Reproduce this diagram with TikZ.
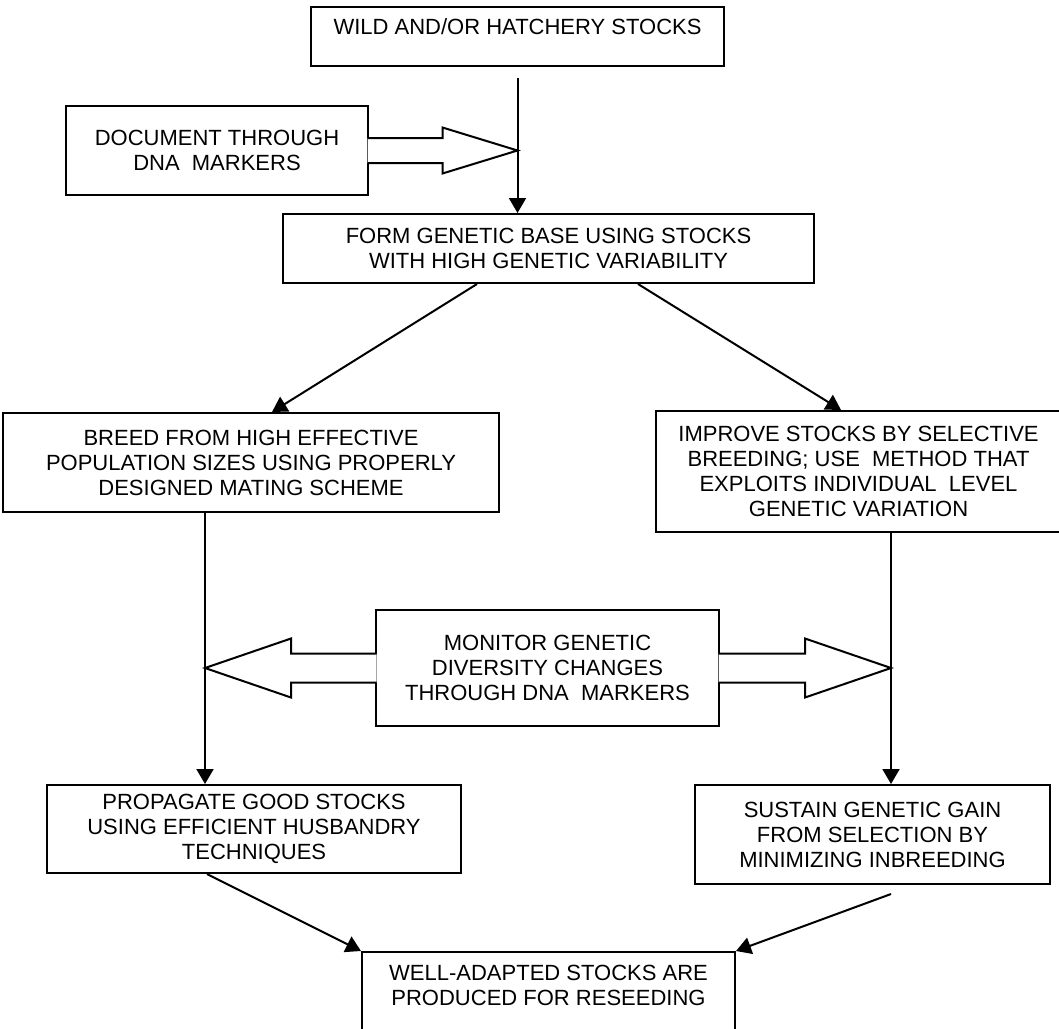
\documentclass[tikz,border=0pt]{standalone}
\usepackage{fontspec}
\setmainfont{Liberation Sans}
\usetikzlibrary{arrows.meta}

\begin{document}
\begin{tikzpicture}[x=1pt, y=1pt,
        box/.style={draw, line width=2pt, align=center, inner sep=0pt,
            font=\fontsize{22}{25}\selectfont},
        arr/.style={line width=2pt, -{Triangle[length=15pt,width=17pt]}},
        fat/.style={line width=2pt, fill=white, line join=miter}]
    \clip (0,0) rectangle (1059,-1028);
    \coordinate (lx) at (205,0);
    \coordinate (rx) at (891,0);
    \node[box, minimum width=413pt, minimum height=59pt] (wild) at (517.5,-36.5)
        {WILD AND/OR HATCHERY STOCKS\\[-6pt] \mbox{}};
    \node[box, minimum width=302pt, minimum height=89pt] (doc) at (217,-150.5)
        {DOCUMENT THROUGH\\DNA~ MARKERS};
    \node[box, minimum width=531pt, minimum height=69pt] (form) at (548.5,-248.5)
        {FORM GENETIC BASE USING STOCKS\\WITH HIGH GENETIC VARIABILITY};
    \node[box, minimum width=496pt, minimum height=99pt] (breed) at (251,-462.5)
        {BREED FROM HIGH EFFECTIVE\\POPULATION SIZES USING PROPERLY\\DESIGNED MATING SCHEME};
    \node[box, minimum width=405pt, minimum height=121pt] (improve) at (858.5,-471.5)
        {IMPROVE STOCKS BY SELECTIVE\\BREEDING; USE~ METHOD THAT\\EXPLOITS INDIVIDUAL~ LEVEL\\GENETIC VARIATION};
    \node[box, minimum width=343pt, minimum height=116pt] (monitor) at (547.5,-668)
        {MONITOR GENETIC\\DIVERSITY CHANGES\\THROUGH DNA~ MARKERS};
    \node[box, minimum width=414pt, minimum height=88pt] (propagate) at (254,-829)
        {PROPAGATE GOOD STOCKS\\USING EFFICIENT HUSBANDRY\\TECHNIQUES};
    \node[box, minimum width=355pt, minimum height=99pt] (sustain) at (872.5,-834.5)
        {SUSTAIN GENETIC GAIN\\FROM SELECTION BY\\MINIMIZING INBREEDING};
    \node[box, minimum width=373pt, minimum height=117pt, anchor=north] (well) at (548.5,-951)
        {WELL-ADAPTED STOCKS ARE\\PRODUCED FOR RESEEDING\\ \mbox{}\\ \mbox{}};

    \coordinate (docTip) at (wild.south |- doc.east);
    \coordinate (lTip) at (lx |- monitor.west);
    \coordinate (rTip) at (rx |- monitor.east);
    \draw[fat] ([xshift=-1.5pt,yshift=12.5pt]doc.east) -- ([xshift=-75pt,yshift=12.5pt]docTip)
        -- ++(0,10.5) -- (docTip) -- ++(-75,-23) -- ++(0,10.5)
        -- ([xshift=-1.5pt,yshift=-12.5pt]doc.east);
    \draw[fat] ([xshift=1.5pt,yshift=14.5pt]monitor.west) -- ([xshift=86pt,yshift=14.5pt]lTip)
        -- ++(0,15) -- (lTip) -- ++(86,-29.5) -- ++(0,15)
        -- ([xshift=1.5pt,yshift=-14.5pt]monitor.west);
    \draw[fat] ([xshift=-1.5pt,yshift=14.5pt]monitor.east) -- ([xshift=-86pt,yshift=14.5pt]rTip)
        -- ++(0,15) -- (rTip) -- ++(-86,-29.5) -- ++(0,15)
        -- ([xshift=-1.5pt,yshift=-14.5pt]monitor.east);

    \draw[arr] ([yshift=-11pt]wild.south) -- (form.north -| wild.south);
    \draw[arr] ([xshift=195pt]form.south west) -- ([xshift=21pt]breed.north);
    \draw[arr] ([xshift=-177pt]form.south east) -- ([xshift=186pt]improve.north west);
    \draw[arr] (breed.south -| lx) -- (propagate.north -| lx);
    \draw[arr] (improve.south -| rx) -- (sustain.north -| rx);
    \draw[arr] ([xshift=-47pt]propagate.south) -- (well.north west);
    \draw[arr] ([yshift=-9pt]sustain.south -| rx) -- (well.north east);
\end{tikzpicture}
\end{document}
